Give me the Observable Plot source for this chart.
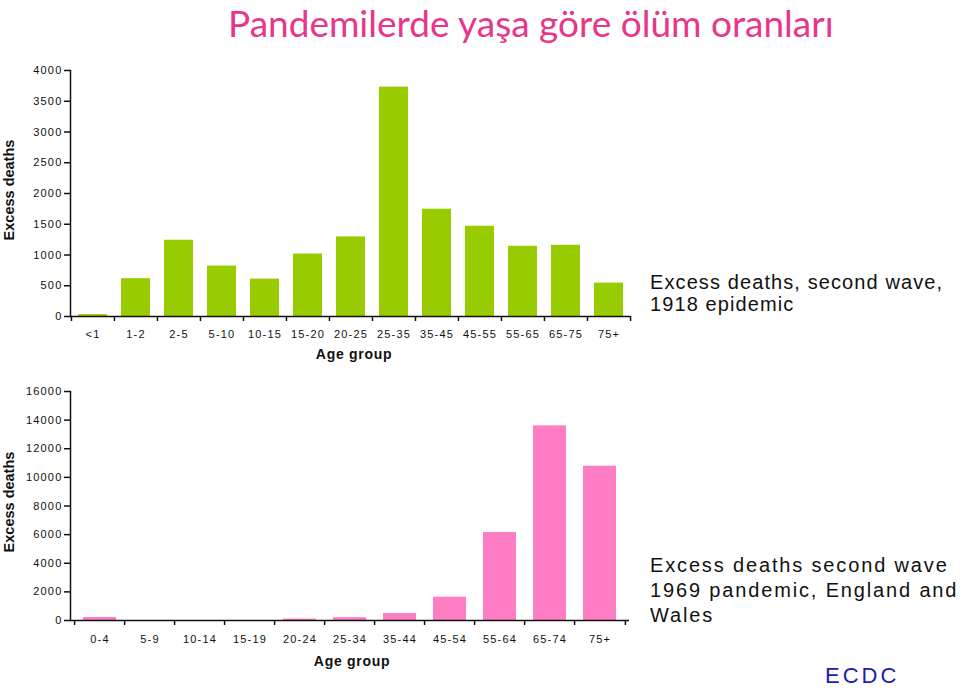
<!DOCTYPE html>
<html><head><meta charset="utf-8">
<script src="https://cdn.jsdelivr.net/npm/d3@7"></script>
<script src="https://cdn.jsdelivr.net/npm/@observablehq/plot@0.6"></script>
<style>
body{margin:0;width:960px;height:691px;position:relative;background:#fff;overflow:hidden;font-family:"Liberation Sans",Arial,sans-serif;color:#111}
.abs{position:absolute;white-space:nowrap}
.ylab{font-weight:bold;font-size:14.5px;transform:translate(-50%,-50%) rotate(-90deg);transform-origin:center}
.xlab{font-weight:bold;font-size:14px;letter-spacing:0.7px;transform:translate(-50%,-50%)}
.note{font-size:20px;color:#111}
</style></head><body>
<div id="title" class="abs" style="left:228px;top:0px;line-height:normal;font-family:Lato,sans-serif;font-size:37px;color:#e8368a;">Pandemilerde yaşa göre ölüm oranları</div>
<div id="c1" class="abs" style="left:0;top:50px"></div>
<div id="c2" class="abs" style="left:0;top:370px"></div>
<div class="abs ylab" style="left:9px;top:190px">Excess deaths</div>
<div class="abs ylab" style="left:9px;top:502px">Excess deaths</div>
<div class="abs xlab" style="left:354px;top:354px">Age group</div>
<div class="abs xlab" style="left:352px;top:661px">Age group</div>
<div class="abs note" style="left:650px;top:271px;line-height:22px;letter-spacing:1.1px">Excess deaths, second wave,<br>1918 epidemic</div>
<div class="abs note" style="left:650px;top:553px;line-height:25px;letter-spacing:1.85px">Excess deaths second wave<br>1969 pandemic, England and<br>Wales</div>
<div class="abs" style="left:825px;top:663px;font-size:22px;letter-spacing:3px;color:#1c1cb4">ECDC</div>
<script>
const ages1918 = ["<1","1-2","2-5","5-10","10-15","15-20","20-25","25-35","35-45","45-55","55-65","65-75","75+"];
const deaths1918 = [30,615,1240,820,608,1016,1294,3730,1745,1468,1142,1158,543];
const yTicks1918 = [0,500,1000,1500,2000,2500,3000,3500,4000];

const ages1969 = ["0-4","5-9","10-14","15-19","20-24","25-34","35-44","45-54","55-64","65-74","75+"];
const deaths1969 = [210,0,0,0,100,200,490,1630,6150,13600,10780];
const yTicks1969 = [0,2000,4000,6000,8000,10000,12000,14000,16000];

function chart({cats, vals, ticks, color, width, height, mt, mb, ml, mr, pad}) {
  const step = (width - ml - mr) / cats.length;
  const data = cats.map((c, i) => ({c, v: vals[i]}));
  const last = cats[cats.length - 1];
  return Plot.plot({
    width, height, marginTop: mt, marginBottom: mb, marginLeft: ml, marginRight: mr,
    style: {fontFamily: "'Liberation Sans', Arial, sans-serif", fontSize: "11px", color: "#111", background: "transparent", letterSpacing: "1.2px", overflow: "visible"},
    x: {domain: cats, paddingInner: 0.335, paddingOuter: 0.1675, label: null},
    y: {domain: [0, ticks[ticks.length - 1]], label: null},
    marks: [
      Plot.barY(data, {x: "c", y: "v", fill: color}),
      Plot.axisY({ticks, tickFormat: d3.format("d"), tickSize: 6, tickPadding: 2, label: null, strokeWidth: 1.5}),
      Plot.axisX({tickSize: 0, tickPadding: pad, label: null}),
      Plot.ruleX(cats, {x: d => d, y1: 0, y2: 0, insetBottom: -5, dx: -step / 2, stroke: "#111", strokeWidth: 1.5}),
      Plot.ruleX([last], {x: d => d, y1: 0, y2: 0, insetBottom: -5, dx: step / 2, stroke: "#111", strokeWidth: 1.5}),
      Plot.ruleY([0], {stroke: "#111", strokeWidth: 1.5}),
      Plot.frame({anchor: "left", stroke: "#111", strokeWidth: 1.5})
    ]
  });
}

document.getElementById("c1").append(chart({
  cats: ages1918, vals: deaths1918, ticks: yTicks1918, color: "#99cc00",
  width: 640, height: 330, mt: 20, mb: 64, ml: 70, mr: 10, pad: 14
}));
document.getElementById("c2").append(chart({
  cats: ages1969, vals: deaths1969, ticks: yTicks1969, color: "#ff7dc4",
  width: 640, height: 310, mt: 21, mb: 60, ml: 70, mr: 11, pad: 15
}));
</script>
</body></html>
